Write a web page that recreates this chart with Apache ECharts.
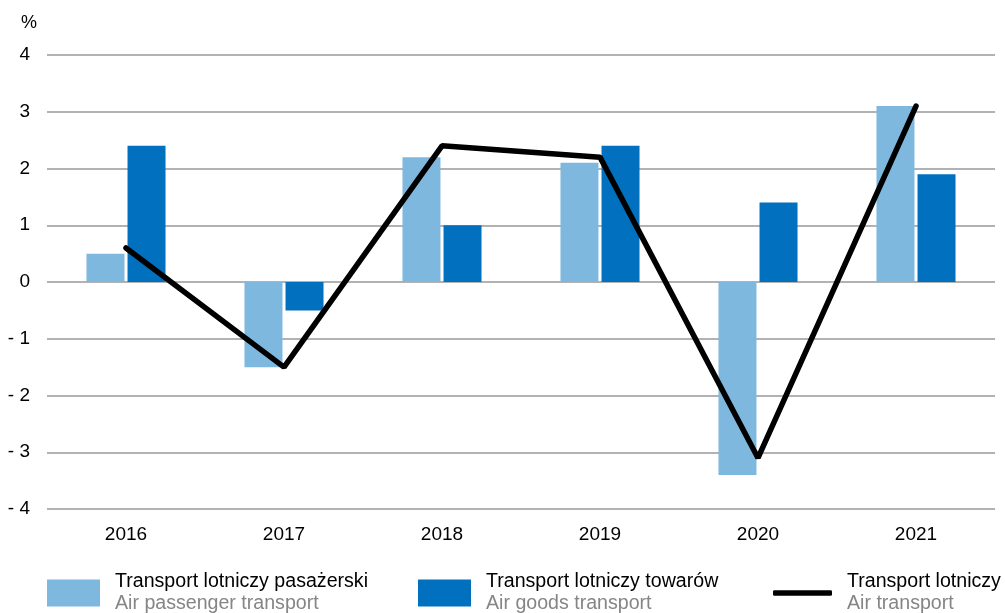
<!DOCTYPE html>
<html><head><meta charset="utf-8">
<script src="https://cdn.jsdelivr.net/npm/echarts@6/dist/echarts.min.js"></script>
<style>html,body{margin:0;padding:0;background:#fff}#c{width:1005px;height:613px}</style>
</head><body><div id="c"></div>
<script>
const categories = ['2016','2017','2018','2019','2020','2021'];
const passenger = [0.5, -1.5, 2.2, 2.1, -3.4, 3.1];
const goods = [2.4, -0.5, 1.0, 2.4, 1.4, 1.9];
const total = [0.6, -1.5, 2.4, 2.2, -3.1, 3.1];
const names = ['Transport lotniczy pasażerski','Transport lotniczy towarów','Transport lotniczy'];
const namesEn = ['Air passenger transport','Air goods transport','Air transport'];
const yTicks = [-4,-3,-2,-1,0,1,2,3,4];

const FONT = 'Liberation Sans';
const chart = echarts.init(document.getElementById('c'));
function legendCfg(i, left, top, w, h, icon) {
  return {
    left: left, top: top, padding: 0, data: [{name: names[i], icon: icon}],
    itemWidth: w, itemHeight: h,
    formatter: n => '{a|' + n + '}\n{b|' + namesEn[i] + '}',
    textStyle: {
      fontFamily: FONT, padding: [0,0,0,10],
      rich: {
        a: {fontFamily: FONT, fontSize: 19.6, color: '#000', lineHeight: 22},
        b: {fontFamily: FONT, fontSize: 19.6, color: '#858585', lineHeight: 22}
      }
    }
  };
}
chart.setOption({
  animation: false,
  title: {text: '%', left: 16, top: 9, textStyle: {fontFamily: FONT, fontSize: 18, fontWeight: 'normal', color: '#000'}},
  grid: {left: 47, right: 10, top: 55, bottom: 104},
  legend: [legendCfg(0, 47, 572, 53, 27, 'rect'), legendCfg(1, 418, 572, 53, 27, 'rect'), legendCfg(2, 773, 572, 59, 5.5, 'roundRect')],
  xAxis: {
    type: 'category', data: categories,
    axisLine: {show: false}, axisTick: {show: false},
    axisLabel: {fontFamily: FONT, fontSize: 19, color: '#000', margin: 16}
  },
  yAxis: {
    type: 'value', min: yTicks[0], max: yTicks[yTicks.length-1], interval: 1,
    axisLine: {show: false}, axisTick: {show: false},
    splitLine: {lineStyle: {color: '#999999', width: 1.5}},
    axisLabel: {fontFamily: FONT, fontSize: 19, color: '#000', margin: 17,
      formatter: v => v < 0 ? '- ' + Math.abs(v) : String(v)}
  },
  series: [
    {name: names[0], type: 'bar', data: passenger, barWidth: 38, barGap: '8%', itemStyle: {color: '#7fb8df'}},
    {name: names[1], type: 'bar', data: goods, barWidth: 38, barGap: '8%', itemStyle: {color: '#0070bf'}},
    {name: names[2], type: 'line', data: total, symbol: 'none', lineStyle: {color: '#000', width: 5.5, cap: 'round'}, itemStyle: {color: '#000'}}
  ]
});
</script></body></html>
